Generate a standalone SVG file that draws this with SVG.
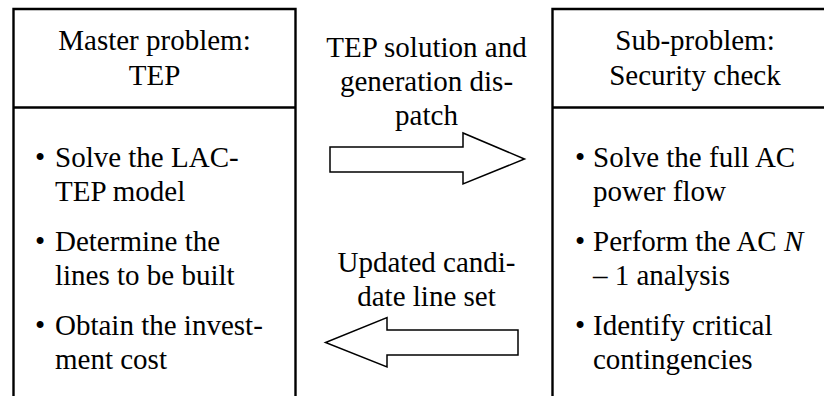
<svg xmlns="http://www.w3.org/2000/svg" width="824" height="396" viewBox="0 0 824 396">
<style>
.box{fill:none;stroke:#000;stroke-width:2.4}
.arr{fill:#fff;stroke:#000;stroke-width:1.5;stroke-linejoin:miter}
text{font-family:"Liberation Serif","Times New Roman",serif;font-size:29px;fill:#000}
.c{text-anchor:middle}
</style>
<rect width="824" height="396" fill="#fff"/>
<g id="master">
<path class="box" d="M13.5,397 V9 H295.5 V397 M13.5,107.5 H295.5"/>
<text class="c" x="154.5" y="50">Master problem:</text>
<text class="c" x="154.5" y="85">TEP</text>
<text x="35" y="167">•</text><text x="55" y="167">Solve the LAC-</text>
<text x="55" y="201">TEP model</text>
<text x="35" y="251">•</text><text x="55" y="251">Determine the</text>
<text x="55" y="285">lines to be built</text>
<text x="35" y="335">•</text><text x="55" y="335">Obtain the invest-</text>
<text x="55" y="369">ment cost</text>
</g>
<g id="sub">
<path class="box" d="M552.5,397 V9 H830 M552.5,107.5 H830"/>
<text class="c" x="695" y="50">Sub-problem:</text>
<text class="c" x="695" y="85">Security check</text>
<text x="575" y="167">•</text><text x="593" y="167">Solve the full AC</text>
<text x="593" y="201">power flow</text>
<text x="575" y="251">•</text><text x="593" y="251">Perform the AC <tspan font-style="italic">N</tspan></text>
<text x="593" y="285">– 1 analysis</text>
<text x="575" y="335">•</text><text x="593" y="335">Identify critical</text>
<text x="593" y="369">contingencies</text>
</g>
<g id="connectors">
<g id="forward">
<path class="arr" d="M330,147 H463 V133 L524.5,159 L463,184 V172 H330 Z"/>
<text class="c" x="426.5" y="57">TEP solution and</text>
<text class="c" x="426.5" y="91">generation dis-</text>
<text class="c" x="426.5" y="125">patch</text>
</g>
<g id="backward">
<path class="arr" d="M518,330 H387 V317.5 L325.5,342.5 L387,367 V355 H518 Z"/>
<text class="c" x="426.5" y="272">Updated candi-</text>
<text class="c" x="426.5" y="306">date line set</text>
</g>
</g>
</svg>
